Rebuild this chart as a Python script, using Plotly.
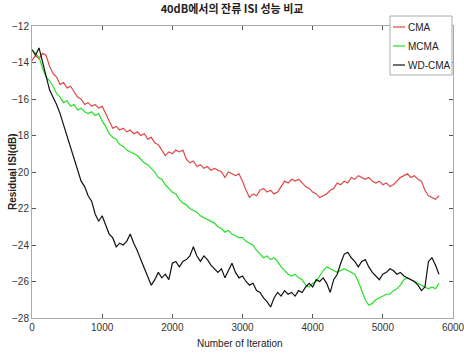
import plotly.graph_objects as go

iterations = list(range(0, 5801, 50))

cma = [-13.9, -13.6, -13.8, -13.5, -13.6, -14.2, -14.6, -14.8, -15.2, -15.1,
       -15.4, -15.3, -15.6, -15.9, -16.0, -16.3, -16.2, -16.4, -16.3, -16.5,
       -16.4, -16.8, -17.2, -17.6, -17.5, -17.7, -17.6, -17.8, -17.7, -17.9,
       -17.8, -18.0, -17.9, -18.2, -18.1, -18.4, -18.5, -18.8, -19.1, -18.9,
       -19.0, -18.8, -18.9, -18.8, -19.3, -19.5, -19.4, -19.7, -19.6, -19.8,
       -19.7, -19.9, -19.8, -19.9, -20.0, -20.3, -20.0, -20.1, -20.2, -20.1,
       -20.5, -21.0, -21.4, -21.2, -21.3, -21.0, -20.9, -21.1, -21.0, -21.2,
       -21.1, -20.8, -20.5, -20.6, -20.4, -20.5, -20.4, -20.6, -20.8, -20.9,
       -21.1, -21.2, -21.4, -21.3, -21.2, -21.0, -20.9, -20.6, -20.7, -20.5,
       -20.6, -20.3, -20.4, -20.2, -20.3, -20.4, -20.3, -20.5, -20.6, -20.5,
       -20.7, -20.6, -20.8, -20.7, -20.5, -20.3, -20.2, -20.1, -20.3, -20.2,
       -20.4, -20.5, -21.0, -21.3, -21.4, -21.5, -21.3]

mcma = [-13.3, -13.5, -13.7, -14.3, -14.8, -15.0, -15.3, -15.7, -15.9, -16.2,
        -16.1, -16.4, -16.3, -16.6, -16.5, -16.7, -16.8, -16.7, -16.9, -16.8,
        -17.2, -17.5, -17.9, -18.1, -18.2, -18.5, -18.6, -18.8, -18.9, -19.0,
        -19.1, -19.3, -19.5, -19.6, -19.8, -20.0, -20.3, -20.4, -20.7, -20.9,
        -21.1, -21.2, -21.5, -21.7, -21.8, -22.0, -22.1, -22.2, -22.4, -22.5,
        -22.6, -22.7, -22.8, -23.0, -23.1, -23.3, -23.2, -23.4, -23.5, -23.6,
        -23.6, -23.8, -23.9, -24.0, -24.3, -24.5, -24.7, -24.6, -24.8, -24.7,
        -24.9, -25.2, -25.4, -25.6, -25.7, -25.6, -25.8, -25.9, -26.2, -26.3,
        -26.1, -26.0, -25.7, -25.4, -25.2, -25.3, -25.4, -25.5, -25.4, -25.3,
        -25.4, -25.5, -25.6, -26.0, -26.5, -27.0, -27.3, -27.2, -27.0, -26.9,
        -26.8, -26.7, -26.7, -26.5, -26.4, -26.2, -25.9, -25.8, -25.9, -26.0,
        -26.1, -26.2, -26.3, -26.4, -26.3, -26.4, -26.1]

wdcma = [-13.3, -13.6, -13.2, -14.0, -14.8, -15.5, -15.9, -16.3, -16.8, -17.4,
         -18.0, -18.6, -19.2, -19.9, -20.5, -20.8, -21.3, -21.6, -22.3, -22.7,
         -22.4, -22.9, -23.4, -23.6, -24.1, -23.9, -24.0, -23.8, -23.4, -23.9,
         -24.3, -24.8, -25.3, -25.7, -26.2, -25.9, -25.5, -25.8, -25.6, -25.9,
         -25.0, -24.9, -25.2, -24.9, -24.8, -24.6, -24.1, -24.6, -24.9, -24.6,
         -24.8, -25.1, -25.3, -25.5, -25.3, -25.8, -25.4, -25.0, -25.5, -25.8,
         -25.7, -26.0, -26.2, -26.1, -26.5, -26.6, -26.9, -27.1, -27.4, -26.9,
         -26.6, -26.8, -26.5, -26.7, -26.6, -26.8, -26.5, -26.6, -26.3, -26.1,
         -26.3, -25.9, -26.0, -25.8, -26.1, -26.6, -25.9, -25.6, -25.0, -24.5,
         -24.4, -24.7, -24.9, -25.2, -24.9, -24.8, -25.2, -25.5, -25.7, -25.9,
         -25.6, -25.5, -25.3, -25.4, -25.6, -25.5, -25.7, -25.8, -25.9, -26.0,
         -26.2, -26.5, -26.3, -24.9, -24.7, -25.1, -25.6]

series_names = ["CMA", "MCMA", "WD-CMA"]
series_colors = ["#e04545", "#22e022", "#111111"]
x_ticks = [0, 1000, 2000, 3000, 4000, 5000, 6000]
y_ticks = [-12, -14, -16, -18, -20, -22, -24, -26, -28]

W, H = 464, 354
L, R, T, B = 32, 11, 26, 36

fig = go.Figure()
for name, vals, col in zip(series_names, [cma, mcma, wdcma], series_colors):
    fig.add_trace(go.Scatter(x=iterations, y=vals, mode="lines", name=name,
                             line=dict(color=col, width=1.2)))

axis_common = dict(showgrid=False, zeroline=False, showline=True, linecolor="#aaaaaa",
                   linewidth=1, mirror="ticks", ticks="inside", ticklen=4,
                   tickcolor="#555555", automargin=False, ticklabeloverflow="allow",
                   tickfont=dict(family="Arial", size=10, color="#333333"))

# custom legend (paper coords)
pw, ph = W - L - R, H - T - B
def px2x(px):
    return (px - L) / pw
def py2y(py):
    return 1 - (py - T) / ph

shapes = [dict(type="rect", xref="paper", yref="paper",
               x0=px2x(390), x1=px2x(452), y0=py2y(75), y1=py2y(16),
               line=dict(color="#aaaaaa", width=1), fillcolor="white", layer="above")]
annotations = []
for i, (name, col) in enumerate(zip(series_names, series_colors)):
    yy = py2y(27 + i * 19)
    shapes.append(dict(type="line", xref="paper", yref="paper",
                       x0=px2x(393), x1=px2x(405), y0=yy, y1=yy,
                       line=dict(color=col, width=1.2), layer="above"))
    annotations.append(dict(text=name, xref="paper", yref="paper", x=px2x(406), y=yy,
                            xanchor="left", yanchor="middle", showarrow=False,
                            font=dict(family="Arial", size=10, color="#222222")))

annotations.append(dict(text="<b>Residual ISI(dB)</b>", xref="paper", yref="paper",
                        x=px2x(12), y=py2y(172), textangle=-90, showarrow=False,
                        xanchor="center", yanchor="middle",
                        font=dict(family="Arial", size=10, color="#222222")))
annotations.append(dict(text="Number of Iteration", xref="paper", yref="paper",
                        x=px2x(240), y=py2y(343), showarrow=False,
                        xanchor="center", yanchor="middle",
                        font=dict(family="Arial", size=10, color="#222222")))

fig.update_layout(
    width=W, height=H,
    margin=dict(l=L, r=R, t=T, b=B),
    paper_bgcolor="white", plot_bgcolor="white",
    title=dict(text="<b>40dB에서의 잔류 ISI 성능 비교</b>", x=0.5, xanchor="center",
               y=1 - 9 / H, yanchor="middle",
               font=dict(family="Noto Sans CJK KR", size=11, color="#222222")),
    xaxis=dict(range=[0, 6000], tickvals=x_ticks, **axis_common),
    yaxis=dict(range=[-28, -12], tickvals=y_ticks, **axis_common),
    shapes=shapes, annotations=annotations,
    showlegend=False,
)

fig.write_html("out.html")
